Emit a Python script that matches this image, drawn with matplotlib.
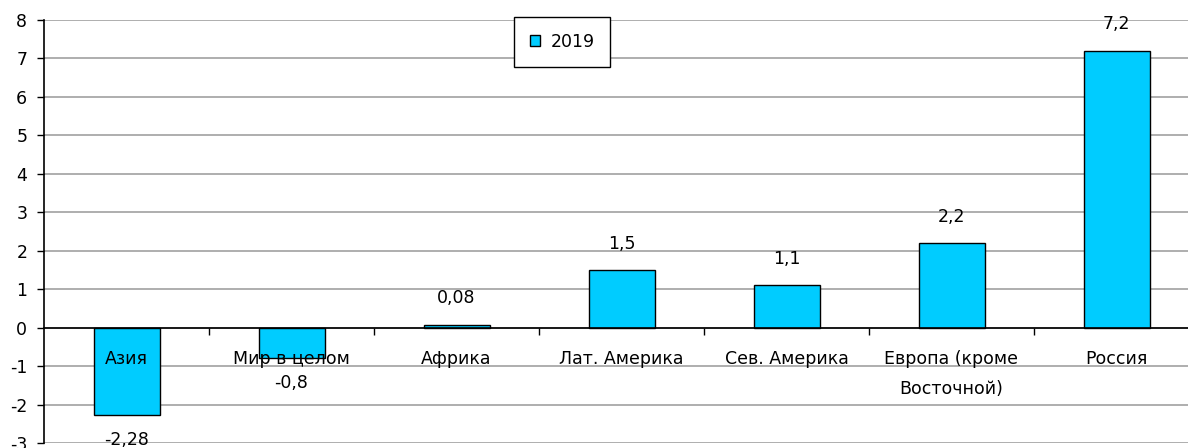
import numpy as np
import matplotlib
matplotlib.use('Agg')
from matplotlib import pyplot as plt
from matplotlib.patches import Patch

plt.rcParams['font.family'] = ['DejaVu Sans']
plt.rcParams['axes.unicode_minus'] = False

# data
regions = ['Азия', 'Мир в целом', 'Африка', 'Лат. Америка', 'Сев. Америка',
           'Европа (кроме\nВосточной)', 'Россия']
values_2019 = [-2.28, -0.8, 0.08, 1.5, 1.1, 2.2, 7.2]
y_ticks = list(range(-3, 9))
series_name = '2019'

bar_color = '#00CCFF'
grid_color = '#999999'
fs = 12.5

fig = plt.figure(figsize=(11.88, 4.48), dpi=100)
ax = fig.add_axes([44 / 1188, 5 / 448, 1155 / 1188, 423 / 448])

x = np.arange(len(regions))
bars = ax.bar(x, values_2019, width=0.4, color=bar_color, edgecolor='black',
              linewidth=1.0, zorder=1)

# horizontal grid behind the bars, labels stay on top
for t in y_ticks:
    ax.axhline(t, color=grid_color, lw=1.1, zorder=0)

ax.set_xlim(-0.5, len(regions) - 0.5)
ax.set_ylim(min(y_ticks), max(y_ticks))
ax.set_yticks(y_ticks)
ax.tick_params(axis='y', direction='out', length=5, width=1, labelsize=fs, pad=7)

# x axis sits on zero, tick marks between categories, names at centers
ax.spines['bottom'].set_position(('data', 0))
ax.spines['bottom'].set_linewidth(1.2)
ax.spines['left'].set_linewidth(1.2)
ax.spines['top'].set_visible(False)
ax.spines['right'].set_visible(False)
ax.set_xticks(x[:-1] + 0.5)
ax.set_xticklabels([])
ax.set_xticks(x, minor=True)
ax.set_xticklabels(regions, minor=True)
ax.tick_params(axis='x', which='major', direction='out', length=5, width=1)
ax.tick_params(axis='x', which='minor', length=0, labelsize=fs, pad=16)
for lab in ax.get_xticklabels(minor=True):
    lab.set_linespacing(1.9)
    lab.set_zorder(5)

# value labels
for xi, v in zip(x, values_2019):
    txt = ('%g' % v).replace('.', ',')
    off = 19 if v >= 0 else -17.5
    ax.annotate(txt, (xi, v), xytext=(0, off), textcoords='offset points',
                ha='center', va='center', fontsize=fs, zorder=5)

leg = fig.legend([Patch(facecolor=bar_color, edgecolor='black')], [series_name],
                 loc='center', bbox_to_anchor=(562 / 1188, 1 - 42 / 448),
                 fontsize=fs, fancybox=False, framealpha=1, edgecolor='black',
                 handlelength=0.6, handleheight=0.6, handletextpad=0.6,
                 borderpad=0.9, borderaxespad=0)
leg.get_frame().set_linewidth(1.0)

fig.savefig('out.png', dpi=100)
